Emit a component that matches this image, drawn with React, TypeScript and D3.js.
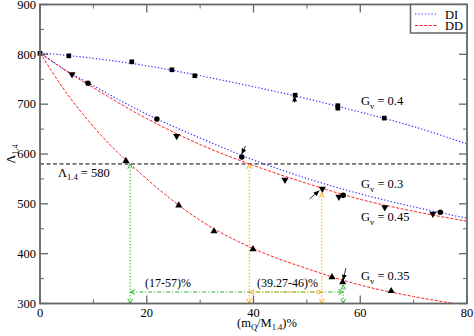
import * as d3 from "d3";

// fitted curves, read at these x positions
const curveX = [0, 5, 10, 20, 30, 40, 50, 60, 70, 80];
const di04 = [803, 798, 792, 777, 757, 735, 711, 684, 655, 620];
const di03 = [803, 767, 737, 680, 632, 588, 551, 520, 494, 471];
const dd045 = [803, 766, 733, 671, 619, 577, 541, 509, 485, 465];
const dd035 = [803, 722, 655, 550, 467, 410, 370, 337, 314, 296];

// data points
const squareX = [0, 5.4, 17.2, 24.7, 29, 47.8, 55.8, 55.8, 64.5];
const squareY = [802, 797, 785, 769, 757, 718, 697, 692, 672];
const circleX = [9, 21.9, 37.8, 56.8, 75];
const circleY = [742, 670, 594, 517, 483];
const downX = [6, 25.6, 45.9, 52.9, 56, 64.6, 73.6];
const downY = [760, 636, 548, 530, 514, 493, 480];
const upX = [16.1, 26, 32.6, 39.9, 54.7, 56.7, 65.8];
const upY = [586, 497, 445, 409, 353, 343, 325];

const xTicks = [0, 20, 40, 60, 80];
const yTicks = [300, 400, 500, 600, 700, 800, 900];
const refValue = 580;

// annotation arrows (data units)
const greenX = [16.9, 56.8];
const greenTop = [580, 337];
const orangeX = [39.2, 52.8];
const orangeTop = [580, 522];
const rangeY = 323;
const blackArrows = [
  [47.7, 703, 47.7, 716],
  [38.5, 616, 37.8, 600],
  [50.5, 510, 52.3, 526],
  [57.3, 371, 56.8, 347],
];

const gvLabels = [
  { t: "0.4", y: 105 },
  { t: "0.3", y: 188 },
  { t: "0.45", y: 221 },
  { t: "0.35", y: 280 },
];

const W = 474, H = 336;
const m = { l: 40, r: 467, t: 4.5, b: 303.5 };
const font = "Liberation Serif, DejaVu Serif, serif";
const frame = "#666";
const GREEN = "#2ab52a";
const ORANGE = "#ffa500";

export default function App() {
  const x = d3.scaleLinear().domain([0, 80]).range([m.l, m.r]);
  const y = d3.scaleLinear().domain([300, 900]).range([m.b, m.t]);
  const line = (vals: number[]) =>
    d3.line<number>().x((d, i) => x(curveX[i])).y((d) => y(d)).curve(d3.curveMonotoneX)(vals) || "";

  const sq = d3.symbol(d3.symbolSquare, 22)()!;
  const circ = d3.symbol(d3.symbolCircle, 24)()!;
  const tri = d3.symbol(d3.symbolTriangle, 22)()!;

  const xMinor = d3.range(0, 81, 10).filter((v) => v % 20 !== 0);
  const yMinor = d3.range(350, 900, 100);

  const marker = (id: string, color: string, filled = false) => (
    <marker id={id} viewBox="0 0 10 10" refX="9" refY="5" markerWidth="6" markerHeight="6"
      markerUnits="userSpaceOnUse" orient="auto-start-reverse">
      {filled ? <path d="M0,1L10,5L0,9Z" fill={color} />
        : <path d="M1,1L9,5L1,9" fill="none" stroke={color} strokeWidth={1.6} />}
    </marker>
  );

  return (
    <svg width={W} height={H} style={{ position: "absolute", left: 0, top: 0, background: "#fff", fontFamily: font }}
      fontFamily={font} fontSize={12.5}>
      <defs>
        <clipPath id="plot"><rect x={m.l} y={m.t} width={m.r - m.l} height={m.b - m.t} /></clipPath>
        {marker("ah-g", GREEN)}
        {marker("ah-o", ORANGE)}
        {marker("ah-k", "#000", true)}
      </defs>

      <g clipPath="url(#plot)">
        <line x1={x(0)} x2={x(80)} y1={y(refValue)} y2={y(refValue)} stroke="#000" strokeDasharray="4,2.5" />
        <path d={line(di04)} fill="none" stroke="#3333ff" strokeWidth={1.2} strokeDasharray="1.3,2" />
        <path d={line(di03)} fill="none" stroke="#3333ff" strokeWidth={1.2} strokeDasharray="1.3,2" />
        <path d={line(dd045)} fill="none" stroke="#ff2020" strokeWidth={1} strokeDasharray="3,1.6" />
        <path d={line(dd035)} fill="none" stroke="#ff2020" strokeWidth={1} strokeDasharray="3,1.6" />
      </g>

      {/* range annotations */}
      {greenX.map((v, i) => (
        <line key={"gv" + i} x1={x(v)} x2={x(v)} y1={y(greenTop[i])} y2={y(300)} stroke={GREEN}
          strokeWidth={1.2} strokeDasharray="1.2,2" markerStart="url(#ah-g)" markerEnd="url(#ah-g)" />
      ))}
      <line x1={x(greenX[0])} x2={x(greenX[1])} y1={y(rangeY)} y2={y(rangeY)} stroke={GREEN}
        strokeDasharray="4,2,1,2" markerStart="url(#ah-g)" markerEnd="url(#ah-g)" />
      {orangeX.map((v, i) => (
        <line key={"ov" + i} x1={x(v)} x2={x(v)} y1={y(orangeTop[i])} y2={y(300)} stroke={ORANGE}
          strokeWidth={1.2} strokeDasharray="1.2,2" markerStart="url(#ah-o)" markerEnd="url(#ah-o)" />
      ))}
      <line x1={x(orangeX[0])} x2={x(orangeX[1])} y1={y(rangeY)} y2={y(rangeY)} stroke={ORANGE}
        strokeWidth={1.2} strokeDasharray="1.2,2" markerStart="url(#ah-o)" markerEnd="url(#ah-o)" />

      {blackArrows.map((a, i) => (
        <line key={"ba" + i} x1={x(a[0])} y1={y(a[1])} x2={x(a[2])} y2={y(a[3])} stroke="#000"
          strokeWidth={0.8} markerEnd="url(#ah-k)" />
      ))}

      {/* points */}
      {squareX.map((v, i) => <path key={"s" + i} d={sq} transform={`translate(${x(v)},${y(squareY[i])})`} />)}
      {circleX.map((v, i) => <path key={"c" + i} d={circ} transform={`translate(${x(v)},${y(circleY[i])})`} />)}
      {downX.map((v, i) => <path key={"d" + i} d={tri} transform={`translate(${x(v)},${y(downY[i])}) rotate(180)`} />)}
      {upX.map((v, i) => <path key={"u" + i} d={tri} transform={`translate(${x(v)},${y(upY[i])})`} />)}

      {/* frame and ticks */}
      <rect x={m.l} y={m.t} width={m.r - m.l} height={m.b - m.t} fill="none" stroke={frame} strokeWidth={1.8} />
      {xTicks.map((v) => (
        <g key={"xt" + v}>
          <line x1={x(v)} x2={x(v)} y1={m.b} y2={m.b - 8} stroke={frame} strokeWidth={1.3} />
          <line x1={x(v)} x2={x(v)} y1={m.t} y2={m.t + 8} stroke={frame} strokeWidth={1.3} />
          <text x={x(v)} y={317} textAnchor="middle">{v}</text>
        </g>
      ))}
      {xMinor.map((v) => (
        <g key={"xm" + v}>
          <line x1={x(v)} x2={x(v)} y1={m.b} y2={m.b - 4} stroke={frame} />
          <line x1={x(v)} x2={x(v)} y1={m.t} y2={m.t + 4} stroke={frame} />
        </g>
      ))}
      {yTicks.map((v) => (
        <g key={"yt" + v}>
          <line x1={m.l} x2={m.l + 8} y1={y(v)} y2={y(v)} stroke={frame} strokeWidth={1.3} />
          <line x1={m.r} x2={m.r - 8} y1={y(v)} y2={y(v)} stroke={frame} strokeWidth={1.3} />
          <text x={36} y={y(v) + 4.3} textAnchor="end">{v}</text>
        </g>
      ))}
      {yMinor.map((v) => (
        <g key={"ym" + v}>
          <line x1={m.l} x2={m.l + 4} y1={y(v)} y2={y(v)} stroke={frame} />
          <line x1={m.r} x2={m.r - 4} y1={y(v)} y2={y(v)} stroke={frame} />
        </g>
      ))}

      {/* axis titles */}
      <text x={267} y={327} textAnchor="middle">
        (m<tspan fontSize={8.5} dy={3}>Q</tspan><tspan dy={-3}>/M</tspan>
        <tspan fontSize={8.5} dy={3}>1.4</tspan><tspan dy={-3}>)%</tspan>
      </text>
      <text transform="translate(15,154) rotate(-90)" textAnchor="middle">
        Λ<tspan fontSize={8.5} dy={3}>1.4</tspan>
      </text>

      {/* labels */}
      <text x={58} y={177}>
        Λ<tspan fontSize={8.5} dy={3}>1.4</tspan><tspan dy={-3}> =  580</tspan>
      </text>
      {gvLabels.map((g) => (
        <text key={g.t} x={361} y={g.y}>
          G<tspan fontSize={8.5} dy={4}>v</tspan><tspan dy={-4}> = {g.t}</tspan>
        </text>
      ))}
      <text x={145} y={287} fontSize={12}>(17-57)%</text>
      <text x={257} y={287} fontSize={12}>(39.27-46)%</text>

      {/* legend */}
      <rect x={410.5} y={m.t} width={m.r - 410.5} height={28.5} fill="#fff" stroke={frame} strokeWidth={1.5} />
      <line x1={415} x2={437} y1={14} y2={14} stroke="#3333ff" strokeWidth={1.2} strokeDasharray="1.3,2" />
      <line x1={415} x2={437} y1={25.5} y2={25.5} stroke="#ff2020" strokeDasharray="3,1.6" />
      <text x={445} y={18.5}>DI</text>
      <text x={445} y={30}>DD</text>
    </svg>
  );
}
